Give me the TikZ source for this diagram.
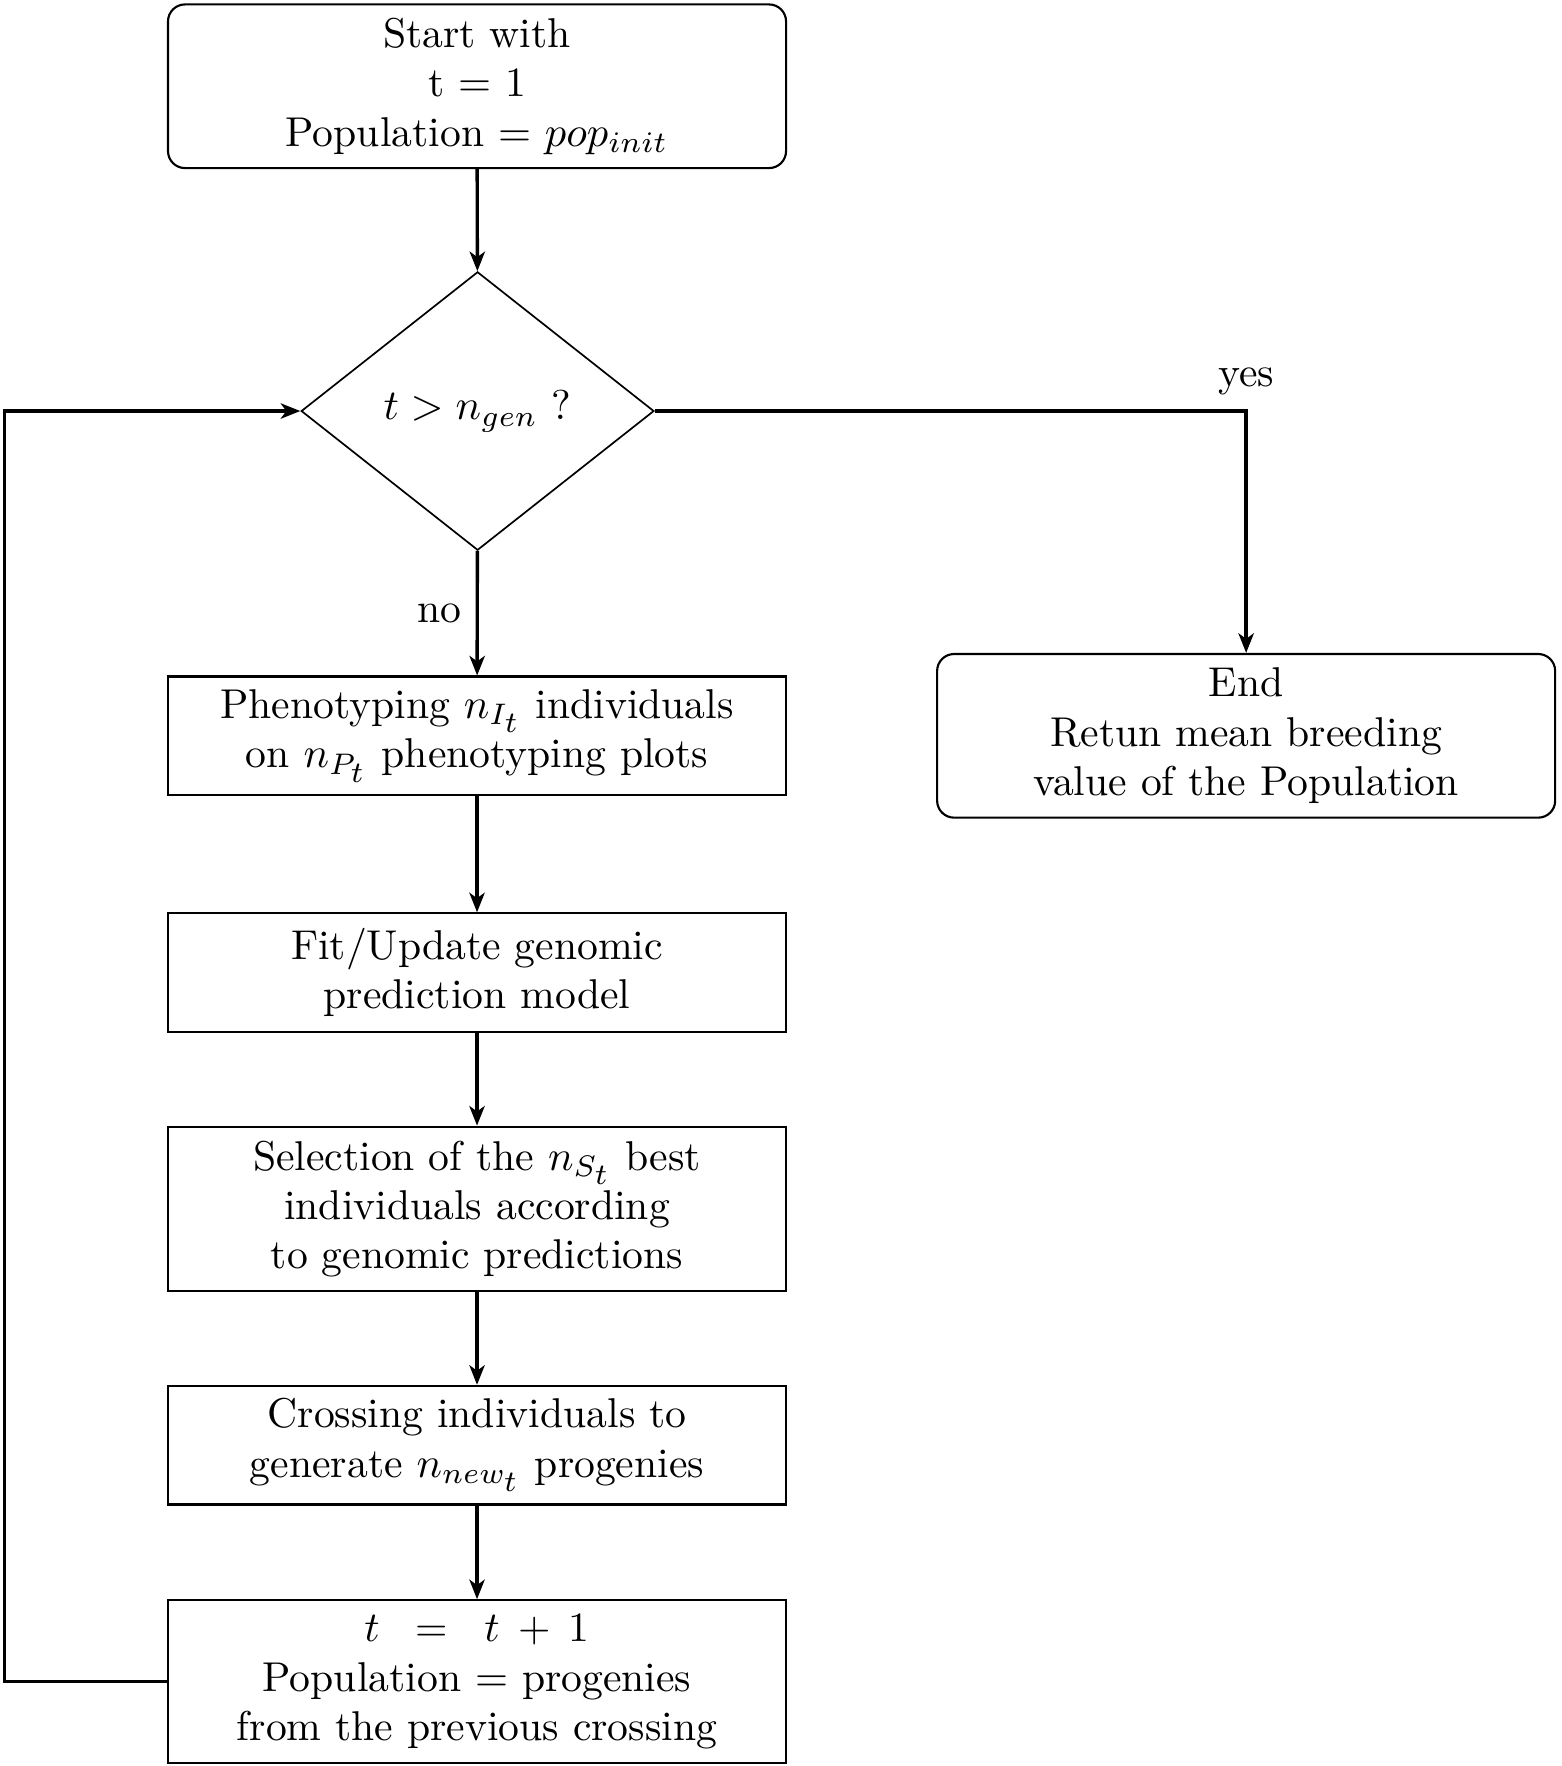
\documentclass[tikz,border=0pt]{standalone}
\usetikzlibrary{shapes.geometric,arrows.meta}
\begin{document}
\begin{tikzpicture}[x=0.2653pt,y=-0.2653pt,
  every node/.style={font=\fontsize{9.8pt}{11.6pt}\selectfont},
  box/.style={draw,line width=0.5pt,minimum width=145.4pt,align=center,inner sep=2pt},
  rbox/.style={box,rounded corners=4pt},
  decbox/.style={draw,diamond,line width=0.4pt,minimum width=83pt,minimum height=65.5pt,inner sep=0pt,aspect=1.27},
  conn/.style={line width=0.8pt,-{Stealth[length=4.6pt,width=3.6pt,inset=1.3pt]}}]
\useasboundingbox (0,0) rectangle (1385,1566);
\node[rbox,minimum height=38.5pt] (start) at (423,76.5) {Start with\\ t $=$ 1\\ Population $=$ $pop_{init}$};
\node[decbox] (dec) at (423.5,364.5) {$t > n_{gen}$ ?};
\node[box,minimum height=27.9pt] (phen) at (423,652.5) {Phenotyping $n_{I_{\scriptstyle t}}$ individuals\\ on $n_{P_{\scriptstyle t}}$ phenotyping plots};
\node[box,minimum height=27.9pt] (fit) at (423,862.5) {Fit/Update genomic\\ prediction model};
\node[box,minimum height=38.7pt] (sel) at (423,1072) {Selection of the $n_{S_{\scriptstyle t}}$ best\\ individuals according\\ to genomic predictions};
\node[box,minimum height=27.9pt] (cross) at (423,1281.5) {Crossing individuals to\\ generate $n_{new_{\scriptstyle t}}$ progenies};
\node[box,minimum height=38.2pt] (upd) at (423,1491) {$t$\hspace{8.5pt}=\hspace{8.5pt}$t$\hspace{4.3pt}+\hspace{4.3pt}1\\ Population $=$ progenies\\ from the previous crossing};
\node[rbox,minimum height=38.5pt] (endn) at (1105,652.5) {End\\ Retun mean breeding\\ value of the Population};
\coordinate (lb) at (4,1491);
\coordinate (lt) at (4,364.5);
\draw[conn] (start) -- (dec);
\draw[conn] (dec) -- node[left] {no} (phen);
\draw[conn] (phen) -- (fit);
\draw[conn] (fit) -- (sel);
\draw[conn] (sel) -- (cross);
\draw[conn] (cross) -- (upd);
\draw[conn] (dec.east) -| node[pos=0.5,above] {yes} (endn.north);
\draw[conn] (upd.west) -- (lb) -- (lt) -- (dec.west);
\end{tikzpicture}
\end{document}
